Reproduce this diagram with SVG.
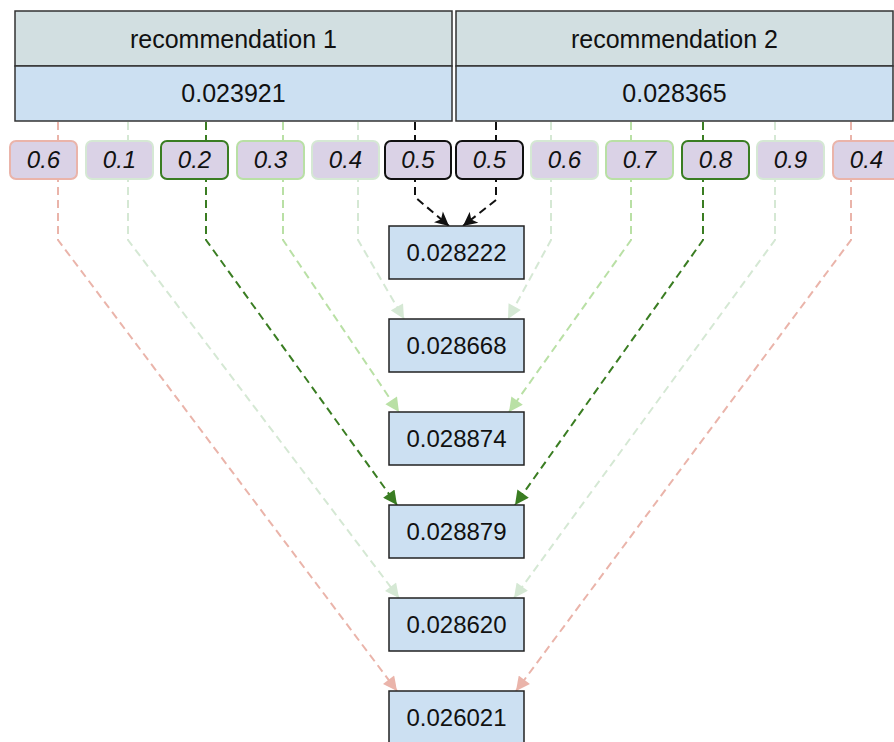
<svg xmlns="http://www.w3.org/2000/svg" width="894" height="742" viewBox="0 0 894 742">
  <style>
    text { font-family: "Liberation Sans", Arial, sans-serif; fill: #111; text-anchor: middle; }
    .hdr { fill: #D2DFE1; stroke: #333; stroke-width: 1.5; }
    .val { fill: #CCE0F2; stroke: #333; stroke-width: 1.5; }
    .big { font-size: 25px; }
    .w { fill: #DAD2E6; stroke-width: 2; }
    .wt { font-size: 24px; font-style: italic; }
    .res { fill: #CCE0F2; stroke: #222; stroke-width: 1.5; }
    .rt { font-size: 24px; }
    .e { fill: none; stroke-width: 2; stroke-dasharray: 8 5; }
    .k { stroke: #111; }
    .s { stroke: #EAB4AA; }
    .g1 { stroke: #D5E8D4; }
    .g2 { stroke: #B9E0A5; }
    .g3 { stroke: #3A7D22; }
  </style>
  <defs>
    <marker id="ak" viewBox="0 0 10 10" refX="10" refY="5" markerWidth="15" markerHeight="14" markerUnits="userSpaceOnUse" orient="auto"><path d="M0 0 L10 5 L0 10 L2.5 5 Z" fill="#111"/></marker>
    <marker id="as" viewBox="0 0 10 10" refX="10" refY="5" markerWidth="15" markerHeight="14" markerUnits="userSpaceOnUse" orient="auto"><path d="M0 0 L10 5 L0 10 Z" fill="#EAB4AA"/></marker>
    <marker id="a1" viewBox="0 0 10 10" refX="10" refY="5" markerWidth="15" markerHeight="14" markerUnits="userSpaceOnUse" orient="auto"><path d="M0 0 L10 5 L0 10 Z" fill="#D5E8D4"/></marker>
    <marker id="a2" viewBox="0 0 10 10" refX="10" refY="5" markerWidth="15" markerHeight="14" markerUnits="userSpaceOnUse" orient="auto"><path d="M0 0 L10 5 L0 10 Z" fill="#B9E0A5"/></marker>
    <marker id="a3" viewBox="0 0 10 10" refX="10" refY="5" markerWidth="15" markerHeight="14" markerUnits="userSpaceOnUse" orient="auto"><path d="M0 0 L10 5 L0 10 Z" fill="#3A7D22"/></marker>
  </defs>

  <!-- connectors: each weight runs down from its recommendation and meets the blended score -->
  <g id="connectors">
    <path class="e k" d="M415 122 V197 L449 226" marker-end="url(#ak)"/>
    <path class="e k" d="M496 122 V200 L463 226" marker-end="url(#ak)"/>
    <path class="e g1" d="M358 122 V240 L404 319" marker-end="url(#a1)"/>
    <path class="e g1" d="M551 122 V240 L508 319" marker-end="url(#a1)"/>
    <path class="e g2" d="M283 122 V240 L399 412" marker-end="url(#a2)"/>
    <path class="e g2" d="M631 122 V240 L509 412" marker-end="url(#a2)"/>
    <path class="e g3" d="M206 122 V240 L397 505" marker-end="url(#a3)"/>
    <path class="e g3" d="M703 122 V240 L515 505" marker-end="url(#a3)"/>
    <path class="e g1" d="M128 122 V240 L399 598" marker-end="url(#a1)"/>
    <path class="e g1" d="M775 122 V240 L514 598" marker-end="url(#a1)"/>
    <path class="e s" d="M58 122 V240 L397 691" marker-end="url(#as)"/>
    <path class="e s" d="M851 122 V240 L516 691" marker-end="url(#as)"/>
  </g>

  <!-- recommendations -->
  <g id="rec1">
    <rect class="hdr" x="15" y="11" width="437" height="55"/>
    <rect class="val" x="15" y="66" width="437" height="55"/>
    <text class="big" x="233.5" y="48">recommendation 1</text>
    <text class="big" x="233.5" y="102">0.023921</text>
  </g>
  <g id="rec2">
    <rect class="hdr" x="456" y="11" width="437" height="55"/>
    <rect class="val" x="456" y="66" width="437" height="55"/>
    <text class="big" x="674.5" y="48">recommendation 2</text>
    <text class="big" x="674.5" y="102">0.028365</text>
  </g>

  <!-- weights for recommendation 1 -->
  <g id="w1-06"><rect class="w" x="10" y="141" width="67" height="38" rx="6" stroke="#EAB4AA"/><text class="wt" x="43.5" y="168">0.6</text></g>
  <g id="w1-01"><rect class="w" x="86" y="141" width="67" height="38" rx="6" stroke="#D5E8D4"/><text class="wt" x="119.5" y="168">0.1</text></g>
  <g id="w1-02"><rect class="w" x="161" y="141" width="67" height="38" rx="6" stroke="#3A7D22"/><text class="wt" x="194.5" y="168">0.2</text></g>
  <g id="w1-03"><rect class="w" x="237" y="141" width="67" height="38" rx="6" stroke="#B9E0A5"/><text class="wt" x="270.5" y="168">0.3</text></g>
  <g id="w1-04"><rect class="w" x="312" y="141" width="67" height="38" rx="6" stroke="#D5E8D4"/><text class="wt" x="345.5" y="168">0.4</text></g>
  <g id="w1-05"><rect class="w" x="385" y="141" width="66" height="38" rx="6" stroke="#111"/><text class="wt" x="418" y="168">0.5</text></g>

  <!-- weights for recommendation 2 -->
  <g id="w2-05"><rect class="w" x="456" y="141" width="67" height="38" rx="6" stroke="#111"/><text class="wt" x="489.5" y="168">0.5</text></g>
  <g id="w2-06"><rect class="w" x="531" y="141" width="67" height="38" rx="6" stroke="#D5E8D4"/><text class="wt" x="564.5" y="168">0.6</text></g>
  <g id="w2-07"><rect class="w" x="606" y="141" width="67" height="38" rx="6" stroke="#B9E0A5"/><text class="wt" x="639.5" y="168">0.7</text></g>
  <g id="w2-08"><rect class="w" x="682" y="141" width="67" height="38" rx="6" stroke="#3A7D22"/><text class="wt" x="715.5" y="168">0.8</text></g>
  <g id="w2-09"><rect class="w" x="757" y="141" width="67" height="38" rx="6" stroke="#D5E8D4"/><text class="wt" x="790.5" y="168">0.9</text></g>
  <g id="w2-04"><rect class="w" x="833" y="141" width="67" height="38" rx="6" stroke="#EAB4AA"/><text class="wt" x="866.5" y="168">0.4</text></g>

  <!-- blended scores -->
  <g id="mix-55"><rect class="res" x="389" y="226" width="135" height="53"/><text class="rt" x="456.5" y="261">0.028222</text></g>
  <g id="mix-46"><rect class="res" x="389" y="319" width="135" height="53"/><text class="rt" x="456.5" y="354">0.028668</text></g>
  <g id="mix-37"><rect class="res" x="389" y="412" width="135" height="53"/><text class="rt" x="456.5" y="447">0.028874</text></g>
  <g id="mix-28"><rect class="res" x="389" y="505" width="135" height="53"/><text class="rt" x="456.5" y="540">0.028879</text></g>
  <g id="mix-19"><rect class="res" x="389" y="598" width="135" height="53"/><text class="rt" x="456.5" y="633">0.028620</text></g>
  <g id="mix-64"><rect class="res" x="389" y="691" width="135" height="53"/><text class="rt" x="456.5" y="726">0.026021</text></g>
</svg>
